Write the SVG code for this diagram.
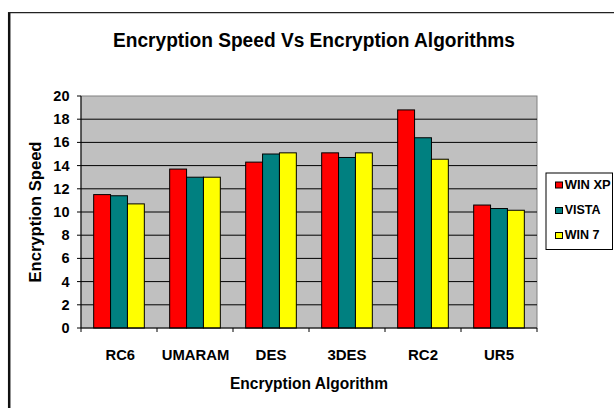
<svg xmlns="http://www.w3.org/2000/svg" width="614" height="408" viewBox="0 0 614 408">
  <style>
    text { font-family: "Liberation Sans", Arial, sans-serif; font-weight: bold; fill: #000; }
    .title { font-size: 20px; }
    .axt { font-size: 16px; }
    .ytk { font-size: 14.5px; text-anchor: end; }
    .xtk { font-size: 15px; text-anchor: middle; }
    .leg { font-size: 12.5px; }
    .grid { stroke: #000; stroke-width: 1; }
    .axis { stroke: #000; stroke-width: 1; fill: none; }
    .bar { stroke: #000; stroke-width: 1; }
    .xp { fill: #FF0000; }
    .vista { fill: #008080; }
    .w7 { fill: #FFFF00; }
  </style>

  <!-- chart area background and frame -->
  <rect x="0" y="0" width="614" height="408" fill="#fff"/>
  <line x1="9.2" y1="12" x2="9.2" y2="408" stroke="#111" stroke-width="2.5"/>
  <line x1="8" y1="12.6" x2="614" y2="12.6" stroke="#222" stroke-width="1.3"/>

  <text class="title" x="314" y="46.7" text-anchor="middle" textLength="402" lengthAdjust="spacingAndGlyphs">Encryption Speed Vs Encryption Algorithms</text>

  <!-- plot area -->
  <g id="plot">
    <rect x="81" y="96" width="456" height="232" fill="#C0C0C0" stroke="#808080" stroke-width="1"/>
    <g class="grid">
      <line x1="81" y1="119.2" x2="537" y2="119.2"/>
      <line x1="81" y1="142.4" x2="537" y2="142.4"/>
      <line x1="81" y1="165.6" x2="537" y2="165.6"/>
      <line x1="81" y1="188.8" x2="537" y2="188.8"/>
      <line x1="81" y1="212" x2="537" y2="212"/>
      <line x1="81" y1="235.2" x2="537" y2="235.2"/>
      <line x1="81" y1="258.4" x2="537" y2="258.4"/>
      <line x1="81" y1="281.6" x2="537" y2="281.6"/>
      <line x1="81" y1="304.8" x2="537" y2="304.8"/>
    </g>
  </g>

  <!-- bars, one group per algorithm -->
  <g id="RC6">
    <rect class="bar xp" x="93.67" y="194.6" width="16.89" height="133.4"/>
    <rect class="bar vista" x="110.56" y="195.76" width="16.89" height="132.24"/>
    <rect class="bar w7" x="127.44" y="203.88" width="16.89" height="124.12"/>
  </g>
  <g id="UMARAM">
    <rect class="bar xp" x="169.67" y="169.08" width="16.89" height="158.92"/>
    <rect class="bar vista" x="186.56" y="177.2" width="16.89" height="150.8"/>
    <rect class="bar w7" x="203.44" y="177.2" width="16.89" height="150.8"/>
  </g>
  <g id="DES">
    <rect class="bar xp" x="245.67" y="162.12" width="16.89" height="165.88"/>
    <rect class="bar vista" x="262.56" y="154" width="16.89" height="174"/>
    <rect class="bar w7" x="279.44" y="152.84" width="16.89" height="175.16"/>
  </g>
  <g id="3DES">
    <rect class="bar xp" x="321.67" y="152.84" width="16.89" height="175.16"/>
    <rect class="bar vista" x="338.56" y="157.48" width="16.89" height="170.52"/>
    <rect class="bar w7" x="355.44" y="152.84" width="16.89" height="175.16"/>
  </g>
  <g id="RC2">
    <rect class="bar xp" x="397.67" y="109.92" width="16.89" height="218.08"/>
    <rect class="bar vista" x="414.56" y="137.76" width="16.89" height="190.24"/>
    <rect class="bar w7" x="431.44" y="159.22" width="16.89" height="168.78"/>
  </g>
  <g id="UR5">
    <rect class="bar xp" x="473.67" y="205.04" width="16.89" height="122.96"/>
    <rect class="bar vista" x="490.56" y="208.52" width="16.89" height="119.48"/>
    <rect class="bar w7" x="507.44" y="210.26" width="16.89" height="117.74"/>
  </g>

  <!-- axes with tick marks -->
  <g id="axes" class="axis">
    <line x1="81" y1="96" x2="81" y2="328"/>
    <line x1="81" y1="328" x2="537" y2="328"/>
    <path d="M77 96H81M77 119.2H81M77 142.4H81M77 165.6H81M77 188.8H81M77 212H81M77 235.2H81M77 258.4H81M77 281.6H81M77 304.8H81M77 328H81"/>
    <path d="M81 328V332M157 328V332M233 328V332M309 328V332M385 328V332M461 328V332M537 328V332"/>
  </g>

  <!-- value labels -->
  <g id="y-labels">
    <text class="ytk" x="69.5" y="101">20</text>
    <text class="ytk" x="69.5" y="124.2">18</text>
    <text class="ytk" x="69.5" y="147.4">16</text>
    <text class="ytk" x="69.5" y="170.6">14</text>
    <text class="ytk" x="69.5" y="193.8">12</text>
    <text class="ytk" x="69.5" y="217">10</text>
    <text class="ytk" x="69.5" y="240.2">8</text>
    <text class="ytk" x="69.5" y="263.4">6</text>
    <text class="ytk" x="69.5" y="286.6">4</text>
    <text class="ytk" x="69.5" y="309.8">2</text>
    <text class="ytk" x="69.5" y="333">0</text>
  </g>
  <text class="axt" transform="translate(40.8 212) rotate(-90)" text-anchor="middle" textLength="141" lengthAdjust="spacingAndGlyphs">Encryption Speed</text>

  <!-- category labels -->
  <g id="x-labels">
    <text class="xtk" x="120.3" y="359.5" textLength="29.5" lengthAdjust="spacingAndGlyphs">RC6</text>
    <text class="xtk" x="195.5" y="359.5" textLength="67.5" lengthAdjust="spacingAndGlyphs">UMARAM</text>
    <text class="xtk" x="271" y="359.5">DES</text>
    <text class="xtk" x="347" y="359.5">3DES</text>
    <text class="xtk" x="423" y="359.5">RC2</text>
    <text class="xtk" x="499" y="359.5">UR5</text>
  </g>
  <text class="axt" x="309" y="389" text-anchor="middle" textLength="158" lengthAdjust="spacingAndGlyphs">Encryption Algorithm</text>

  <!-- legend -->
  <g id="legend">
    <rect x="546" y="173" width="66.5" height="76.5" fill="#fff" stroke="#000" stroke-width="1"/>
    <rect class="bar xp" x="555.5" y="182" width="7" height="6"/>
    <rect class="bar vista" x="555.5" y="207.5" width="7" height="6"/>
    <rect class="bar w7" x="555.5" y="232.5" width="7" height="6"/>
    <text class="leg" x="564.7" y="189" textLength="46" lengthAdjust="spacingAndGlyphs">WIN XP</text>
    <text class="leg" x="564.7" y="214">VISTA</text>
    <text class="leg" x="564.7" y="239">WIN 7</text>
  </g>
</svg>
